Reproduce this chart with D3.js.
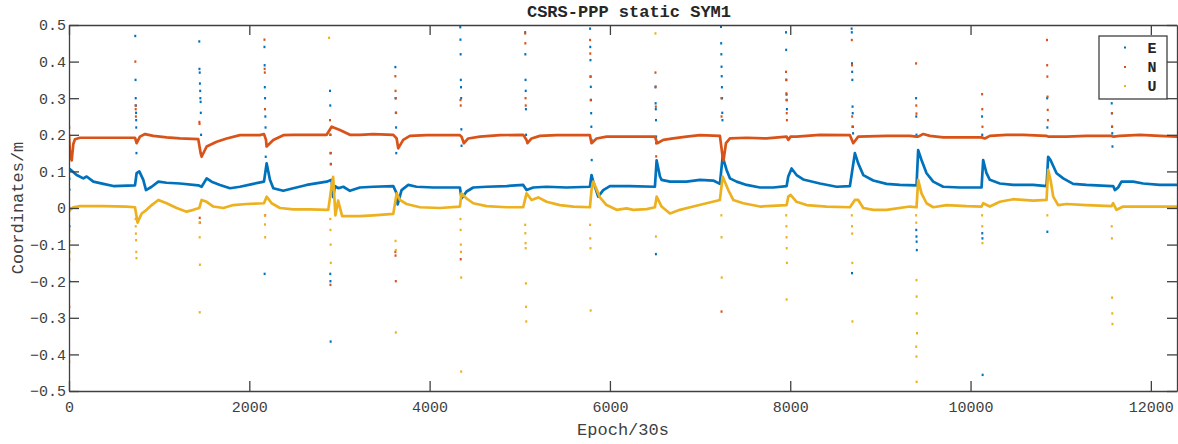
<!DOCTYPE html>
<html>
<head>
<meta charset="utf-8">
<script src="https://cdn.jsdelivr.net/npm/d3@7/dist/d3.min.js"></script>
<style>
  html, body { margin: 0; padding: 0; background: #fff; }
  svg { display: block; }
  text { font-family: "Liberation Mono", "DejaVu Sans Mono", monospace; }
</style>
</head>
<body>
<svg id="chart" width="1178" height="444"></svg>
<script>
// ---------------- DATA ----------------
const title = "CSRS-PPP static SYM1";
const xLabel = "Epoch/30s";
const yLabel = "Coordinates/m";
const seriesNames = ["E", "N", "U"];
const seriesColors = ["#0072BD", "#D95319", "#EDB120"];
const xTicks = [0, 2000, 4000, 6000, 8000, 10000, 12000];
const xTickLabels = ["0", "2000", "4000", "6000", "8000", "10000", "12000"];
const yTicks = [-0.5, -0.4, -0.3, -0.2, -0.1, 0, 0.1, 0.2, 0.3, 0.4, 0.5];
const yTickLabels = ["\u22120.5", "\u22120.4", "\u22120.3", "\u22120.2", "\u22120.1", "0", "0.1", "0.2", "0.3", "0.4", "0.5"];
const xMax = 12290;

// main (converged) track of each component: [epoch, value in m]
const E_track = [
  [0,0.100],[11,0.106],[85,0.090],[159,0.081],[196,0.086],[270,0.072],[381,0.066],[492,0.060],[732,0.062],
  [750,0.095],[780,0.100],[824,0.077],[854,0.049],[917,0.058],[991,0.072],[1083,0.069],[1231,0.067],[1434,0.062],
  [1471,0.058],[1527,0.081],[1582,0.072],[1675,0.063],[1786,0.054],[1896,0.058],[2044,0.066],[2163,0.072],
  [2192,0.122],[2229,0.077],[2266,0.054],[2377,0.047],[2488,0.054],[2636,0.063],[2858,0.072],
  [2913,0.077],[2930,0.030],[2950,0.060],[2987,0.054],[3043,0.058],[3116,0.047],[3227,0.056],[3375,0.058],[3597,0.060],
  [3634,0.040],[3645,0.010],[3689,0.049],[3763,0.063],[3855,0.058],[4040,0.056],[4336,0.056],
  [4354,0.026],[4410,0.045],[4484,0.056],[4632,0.058],[4854,0.060],[5038,0.063],
  [5075,0.049],[5149,0.056],[5297,0.058],[5519,0.056],[5778,0.058],
  [5796,0.090],[5815,0.072],[5870,0.031],[5926,0.049],[6000,0.060],[6221,0.060],[6499,0.058],
  [6518,0.130],[6555,0.086],[6573,0.077],[6666,0.072],[6850,0.072],[6998,0.077],[7146,0.075],[7220,0.066],
  [7250,0.140],[7294,0.104],[7331,0.081],[7405,0.072],[7516,0.063],[7664,0.056],[7812,0.056],[7960,0.060],
  [7978,0.086],[8015,0.108],[8070,0.090],[8144,0.078],[8329,0.067],[8514,0.058],[8662,0.060],
  [8717,0.150],[8754,0.122],[8810,0.090],[8921,0.075],[9069,0.066],[9216,0.063],[9401,0.062],
  [9419,0.158],[9456,0.131],[9512,0.095],[9586,0.072],[9697,0.058],[9881,0.056],[10122,0.056],
  [10140,0.131],[10177,0.095],[10214,0.077],[10325,0.067],[10473,0.063],[10695,0.063],[10843,0.060],
  [10861,0.140],[10887,0.131],[10954,0.095],[11028,0.081],[11138,0.066],[11286,0.063],[11564,0.060],
  [11582,0.060],[11601,0.049],[11637,0.056],[11674,0.072],[11804,0.072],[11915,0.067],[12100,0.063],[12285,0.063]
];
const N_track = [
  [0,0.200],[11,0.150],[30,0.130],[48,0.175],[66,0.188],[122,0.192],[381,0.192],[732,0.192],
  [750,0.177],[787,0.195],[843,0.202],[935,0.197],[1083,0.193],[1231,0.190],[1434,0.188],
  [1460,0.150],[1471,0.140],[1527,0.168],[1638,0.181],[1749,0.190],[1896,0.199],[2118,0.199],[2163,0.202],
  [2185,0.186],[2192,0.168],[2266,0.186],[2377,0.199],[2488,0.200],[2858,0.200],
  [2913,0.222],[3005,0.213],[3116,0.200],[3227,0.200],[3375,0.202],[3597,0.200],
  [3634,0.190],[3652,0.163],[3707,0.186],[3781,0.197],[3966,0.199],[4336,0.199],
  [4354,0.195],[4380,0.177],[4428,0.190],[4558,0.195],[4780,0.199],[5038,0.200],
  [5075,0.186],[5085,0.177],[5131,0.190],[5223,0.197],[5408,0.199],[5778,0.199],
  [5796,0.177],[5852,0.190],[5963,0.195],[6221,0.195],[6499,0.195],
  [6525,0.177],[6592,0.186],[6703,0.190],[6850,0.195],[6998,0.199],[7220,0.197],
  [7250,0.140],[7260,0.130],[7287,0.177],[7331,0.190],[7516,0.192],[7738,0.190],[7960,0.195],
  [7978,0.186],[8004,0.195],[8070,0.195],[8329,0.200],[8662,0.199],
  [8699,0.177],[8754,0.195],[9069,0.197],[9327,0.197],[9401,0.195],
  [9419,0.195],[9475,0.202],[9549,0.197],[9697,0.193],[9955,0.193],[10122,0.193],
  [10159,0.190],[10214,0.197],[10399,0.200],[10584,0.200],[10843,0.197],
  [10861,0.195],[11065,0.195],[11286,0.197],[11564,0.197],
  [11582,0.195],[11656,0.197],[11878,0.200],[12100,0.197],[12285,0.195]
];
const U_track = [
  [0,-0.010],[11,-0.005],[48,0.002],[122,0.005],[381,0.005],[640,0.004],[732,0.002],
  [750,-0.024],[760,-0.040],[806,-0.015],[861,-0.005],[917,0.008],[991,0.022],[1083,0.013],[1194,0.000],[1305,-0.010],[1379,-0.005],[1445,0.000],
  [1471,0.022],[1527,0.017],[1601,0.004],[1712,0.000],[1823,0.008],[1970,0.011],[2163,0.013],
  [2192,0.031],[2248,0.013],[2340,0.000],[2488,-0.004],[2673,-0.004],[2876,-0.005],
  [2913,0.060],[2930,0.085],[2955,-0.020],[2985,0.020],[3030,-0.022],[3079,-0.022],[3227,-0.022],[3375,-0.020],[3597,-0.016],
  [3634,0.040],[3670,0.022],[3744,0.011],[3892,0.002],[4114,0.000],[4336,0.004],
  [4354,0.040],[4410,0.026],[4484,0.013],[4632,0.005],[4854,0.002],[5038,0.002],
  [5075,0.040],[5131,0.022],[5205,0.029],[5297,0.017],[5445,0.008],[5593,0.004],[5778,0.002],
  [5796,0.050],[5815,0.072],[5889,0.029],[5963,0.008],[6074,-0.005],[6185,-0.001],[6259,-0.005],[6407,-0.003],[6499,0.002],
  [6518,0.031],[6573,0.004],[6666,-0.015],[6776,-0.005],[6924,0.004],[7072,0.013],[7220,0.022],
  [7250,0.086],[7313,0.049],[7368,0.022],[7479,0.013],[7664,0.004],[7960,0.008],
  [7978,0.031],[8004,0.036],[8070,0.017],[8181,0.008],[8403,0.004],[8662,0.002],
  [8717,0.022],[8754,0.022],[8810,0.000],[8921,-0.005],[9069,-0.005],[9327,0.004],[9401,0.002],
  [9419,0.077],[9456,0.040],[9512,0.013],[9586,0.002],[9734,0.008],[9955,0.005],[10122,0.004],
  [10140,0.013],[10214,0.004],[10325,0.017],[10473,0.024],[10695,0.020],[10843,0.022],
  [10861,0.104],[10887,0.077],[10917,0.031],[10972,0.008],[11065,0.011],[11286,0.008],[11564,0.005],
  [11582,0.013],[11619,-0.005],[11693,0.004],[11878,0.004],[12285,0.004]
];

// scattered outlier epochs around each re-initialisation: [epoch, value in m]
const E_out = [
  [5,0.08],[5,0.05],[5,0.0],[6,-0.05],[4,-0.2],
  [735,0.47],[738,0.35],[740,0.30],[742,0.28],[744,0.26],[745,0.24],[746,0.22],[748,0.15],
  [1445,0.455],[1447,0.38],[1450,0.37],[1452,0.34],[1455,0.32],[1457,0.30],[1460,0.29],[1462,0.26],[1465,0.20],
  [2168,0.44],[2170,0.39],[2172,0.33],[2175,0.30],[2178,0.25],[2180,0.22],[2182,0.14],[2170,-0.18],
  [2895,0.32],[2898,0.28],[2900,0.20],[2903,0.15],[2905,0.12],[2898,-0.18],[2900,-0.20],[2902,-0.365],
  [3620,0.385],[3622,0.30],[3625,0.26],[3628,0.22],[3630,0.15],
  [4340,0.494],[4342,0.46],[4344,0.42],[4346,0.35],[4348,0.33],[4350,0.30],[4352,0.215],[4354,0.17],
  [5060,0.48],[5062,0.42],[5064,0.35],[5066,0.32],[5068,0.27],[5070,0.20],
  [5780,0.49],[5782,0.44],[5784,0.404],[5786,0.359],[5788,0.331],[5790,0.295],[5792,0.259],[5794,0.222],[5796,0.186],[5798,0.131],
  [6505,0.33],[6507,0.286],[6509,0.27],[6511,0.24],[6513,0.195],[6510,-0.126],
  [7232,0.495],[7234,0.45],[7236,0.42],[7238,0.386],[7240,0.36],[7242,0.33],[7244,0.30],[7246,0.26],[7248,0.24],
  [7953,0.48],[7955,0.432],[7957,0.35],[7959,0.31],[7961,0.295],[7963,0.27],
  [8681,0.49],[8683,0.48],[8685,0.395],[8687,0.372],[8689,0.35],[8691,0.277],[8693,0.259],[8695,0.222],[8697,0.204],[8685,-0.178],
  [9396,0.30],[9398,0.25],[9400,0.20],[9398,-0.06],[9400,-0.078],[9402,-0.092],[9404,-0.115],
  [10128,0.25],[10130,0.20],[10130,-0.069],[10132,-0.083],[10134,-0.456],
  [10850,0.30],[10852,0.22],[10852,-0.065],
  [11566,0.286],[11568,0.259],[11570,0.222],[11572,0.204],[11574,0.168]
];
const N_out = [
  [3,0.22],[5,0.15],[3,-0.27],
  [736,0.40],[738,0.28],[740,0.27],[742,0.25],
  [1446,0.235],[1448,0.23],[1450,-0.027],[1452,-0.04],
  [2168,0.46],[2170,0.38],[2172,0.37],[2174,0.27],[2176,-0.02],
  [2895,0.24],[2898,0.20],[2900,0.15],[2903,0.12],[2900,-0.21],
  [3620,0.36],[3622,0.32],[3625,0.30],[3628,0.26],[3620,-0.12],[3622,-0.13],[3625,-0.20],
  [4342,0.295],[4345,0.28],[4345,-0.14],
  [5060,0.477],[5062,0.45],[5064,0.30],[5066,0.28],
  [5780,0.459],[5782,0.422],[5784,0.359],[5786,0.295],
  [6505,0.37],[6507,0.332],[6509,0.277],[6511,0.177],[6513,0.141],
  [7236,0.30],[7238,0.25],[7238,-0.283],
  [7953,0.372],[7955,0.35],[7957,0.313],[7959,0.295],[7961,0.259],[7963,0.24],
  [8683,0.459],[8685,0.39],[8687,0.25],[8689,0.222],
  [9396,0.395],[9398,0.28],[9400,0.258],
  [10128,0.311],[10130,0.27],[10132,0.222],
  [10848,0.459],[10850,0.39],[10852,0.359],[10854,0.304],[10856,0.268],[10858,0.24],
  [11568,0.259],[11570,0.222]
];
const U_out = [
  [3,-0.03],[4,-0.06],[5,-0.09],[6,-0.12],[5,-0.14],[3,-0.42],
  [738,-0.03],[740,-0.05],[742,-0.07],[744,-0.088],[746,-0.12],[748,-0.137],
  [1448,-0.04],[1450,-0.08],[1452,-0.155],[1450,-0.285],
  [2172,-0.02],[2174,-0.045],[2176,-0.08],
  [2885,0.465],[2898,-0.03],[2900,-0.06],[2902,-0.10],[2904,-0.15],
  [3622,-0.09],[3625,-0.115],[3625,-0.34],
  [4342,-0.03],[4344,-0.06],[4346,-0.10],[4348,-0.12],[4350,-0.19],[4350,-0.447],
  [5060,-0.046],[5062,-0.069],[5064,-0.096],[5066,-0.11],[5068,-0.206],[5070,-0.27],[5072,-0.31],
  [5780,-0.046],[5782,-0.083],[5784,-0.11],[5786,-0.28],
  [6505,0.477],[6510,-0.078],
  [7236,-0.02],[7238,-0.08],[7240,-0.19],
  [7955,-0.02],[7957,-0.05],[7959,-0.08],[7961,-0.11],[7963,-0.15],[7960,-0.25],
  [8683,-0.02],[8685,-0.05],[8687,-0.07],[8689,-0.15],[8690,-0.31],
  [9396,-0.02],[9398,-0.04],[9400,-0.197],[9402,-0.242],[9404,-0.288],[9406,-0.342],[9398,-0.379],[9400,-0.406],[9402,-0.475],
  [10128,-0.02],[10130,-0.05],[10132,-0.096],
  [10852,-0.02],
  [11566,-0.05],[11568,-0.083],[11570,-0.245],[11572,-0.288],[11574,-0.317]
];

const tracks = [E_track, N_track, U_track];
const outliers = [E_out, N_out, U_out];

// ---------------- LAYOUT ----------------
const svg = d3.select("#chart");
const L = 69, R = 1177, T = 25, B = 391;
const axisColor = "#404040";
const textColor = "#404040";

const x = d3.scaleLinear().domain([0, xMax]).range([L, R]);
const y = d3.scaleLinear().domain([-0.5, 0.5]).range([B, T]);

svg.append("rect").attr("x", L).attr("y", T).attr("width", R - L).attr("height", B - T).attr("fill", "#fff");

svg.append("defs").append("clipPath").attr("id", "clip")
  .append("rect").attr("x", L).attr("y", T - 1).attr("width", R - L).attr("height", B - T + 2);

const plot = svg.append("g").attr("clip-path", "url(#clip)");

const line = d3.line().x(d => x(d[0])).y(d => y(d[1]));

tracks.forEach((tr, i) => {
  const c = seriesColors[i];
  plot.append("g").selectAll("rect").data(outliers[i]).join("rect")
    .attr("x", d => x(d[0]) - 1).attr("y", d => y(d[1]) - 1.2)
    .attr("width", 2).attr("height", 2.4).attr("fill", c);
  plot.append("path").datum(tr)
    .attr("d", line).attr("fill", "none").attr("stroke", c)
    .attr("stroke-width", 2.7).attr("stroke-linejoin", "round").attr("stroke-linecap", "round");
});

// ---------------- AXES ----------------
function styleAxis(g) {
  g.selectAll(".domain").attr("stroke", axisColor).attr("stroke-width", 1.3);
  g.selectAll(".tick line").attr("stroke", axisColor).attr("stroke-width", 1.3);
  g.selectAll(".tick text").attr("fill", textColor)
    .style("font-family", '"Liberation Mono", "DejaVu Sans Mono", monospace')
    .style("font-size", "15px");
}

const gx = svg.append("g").attr("transform", `translate(0,${B})`)
  .call(d3.axisBottom(x).tickValues(xTicks).tickFormat((d, i) => xTickLabels[i])
    .tickSizeInner(-10).tickSizeOuter(0).tickPadding(10));
styleAxis(gx);
gx.attr("font-family", null);

const gxt = svg.append("g").attr("transform", `translate(0,${T})`)
  .call(d3.axisTop(x).tickValues(xTicks).tickFormat("").tickSizeInner(-10).tickSizeOuter(0));
styleAxis(gxt);

const gy = svg.append("g").attr("transform", `translate(${L},0)`)
  .call(d3.axisLeft(y).tickValues(yTicks).tickFormat((d, i) => yTickLabels[i])
    .tickSizeInner(-10).tickSizeOuter(0).tickPadding(3));
styleAxis(gy);

const gyr = svg.append("g").attr("transform", `translate(${R},0)`)
  .call(d3.axisRight(y).tickValues(yTicks).tickFormat("").tickSizeInner(-10).tickSizeOuter(0));
styleAxis(gyr);

// ---------------- TEXT ----------------
svg.append("text").attr("x", 629).attr("y", 17).attr("text-anchor", "middle")
  .attr("fill", "#262626").attr("font-size", 17).attr("font-weight", "bold").text(title);

svg.append("text").attr("x", (L + R) / 2).attr("y", 435).attr("text-anchor", "middle")
  .attr("fill", textColor).attr("font-size", 17).text(xLabel);

svg.append("text").attr("transform", `translate(23,${(T + B) / 2}) rotate(-90)`)
  .attr("text-anchor", "middle").attr("fill", textColor).attr("font-size", 17).text(yLabel);

// ---------------- LEGEND ----------------
const lg = svg.append("g");
lg.append("rect").attr("x", 1099).attr("y", 36).attr("width", 68).attr("height", 63)
  .attr("fill", "#fff").attr("stroke", axisColor).attr("stroke-width", 1.3);
const legY = [47.5, 67, 86];
seriesNames.forEach((n, i) => {
  lg.append("rect").attr("x", 1124).attr("y", legY[i] - 1).attr("width", 2).attr("height", 2)
    .attr("fill", seriesColors[i]);
  lg.append("text").attr("x", 1152).attr("y", legY[i] + 5).attr("text-anchor", "middle")
    .attr("fill", "#262626").attr("font-size", 15).attr("font-weight", "bold").text(n);
});
</script>
</body>
</html>
